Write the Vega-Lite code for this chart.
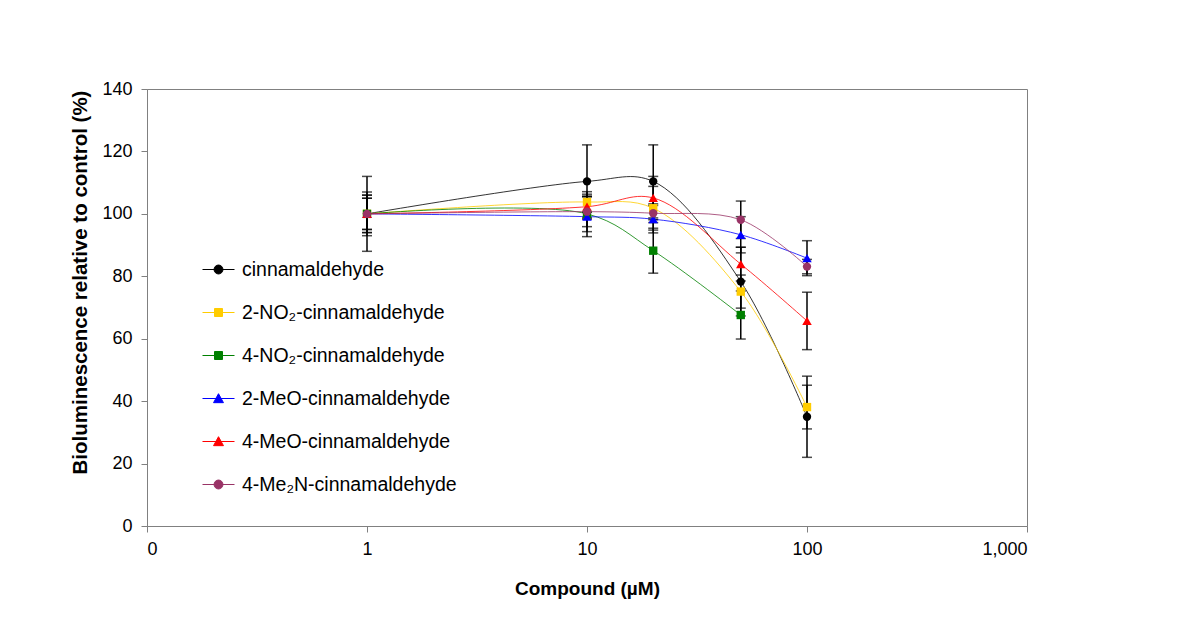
{
  "$schema": "https://vega.github.io/schema/vega-lite/v6.json",
  "width": 880,
  "height": 437,
  "autosize": {"type": "none"},
  "padding": {"left": 147, "top": 89, "right": 173, "bottom": 105},
  "background": "white",
  "config": {
    "font": "Liberation Sans",
    "view": {"stroke": "#808080", "strokeWidth": 1},
    "axis": {
      "grid": false,
      "domainColor": "#808080",
      "tickColor": "#808080",
      "labelColor": "black",
      "titleColor": "black",
      "labelFont": "Liberation Sans",
      "titleFont": "Liberation Sans",
      "tickSize": 6
    }
  },
  "data": {
    "values": [
      {"compound": "cinnamaldehyde", "conc": 1, "value": 100, "lo": 88, "hi": 112},
      {"compound": "cinnamaldehyde", "conc": 10, "value": 110.4, "lo": 98.7, "hi": 122.1},
      {"compound": "cinnamaldehyde", "conc": 20, "value": 110.4, "lo": 98.7, "hi": 122.1},
      {"compound": "cinnamaldehyde", "conc": 50, "value": 78.3, "lo": 67.3, "hi": 89.3},
      {"compound": "cinnamaldehyde", "conc": 100, "value": 35, "lo": 22, "hi": 48},
      {"compound": "2-NO₂-cinnamaldehyde", "conc": 1, "value": 100, "lo": 93, "hi": 107},
      {"compound": "2-NO₂-cinnamaldehyde", "conc": 10, "value": 103.8, "lo": 100.5, "hi": 107.1},
      {"compound": "2-NO₂-cinnamaldehyde", "conc": 20, "value": 101.8, "lo": 94.8, "hi": 108.8},
      {"compound": "2-NO₂-cinnamaldehyde", "conc": 50, "value": 75.1, "lo": 69.8, "hi": 80.4},
      {"compound": "2-NO₂-cinnamaldehyde", "conc": 100, "value": 38.1, "lo": 31.1, "hi": 45.1},
      {"compound": "4-NO₂-cinnamaldehyde", "conc": 1, "value": 100, "lo": 94, "hi": 106},
      {"compound": "4-NO₂-cinnamaldehyde", "conc": 10, "value": 100, "lo": 94.3, "hi": 105.7},
      {"compound": "4-NO₂-cinnamaldehyde", "conc": 20, "value": 88.2, "lo": 81, "hi": 95.4},
      {"compound": "4-NO₂-cinnamaldehyde", "conc": 50, "value": 67.6, "lo": 59.9, "hi": 75.3},
      {"compound": "2-MeO-cinnamaldehyde", "conc": 1, "value": 100, "lo": 95, "hi": 105},
      {"compound": "2-MeO-cinnamaldehyde", "conc": 10, "value": 99.1, "lo": 92.7, "hi": 105.5},
      {"compound": "2-MeO-cinnamaldehyde", "conc": 20, "value": 98.3, "lo": 93.9, "hi": 102.7},
      {"compound": "2-MeO-cinnamaldehyde", "conc": 50, "value": 93.3, "lo": 87.5, "hi": 99.1},
      {"compound": "2-MeO-cinnamaldehyde", "conc": 100, "value": 85.8, "lo": 80.2, "hi": 91.4},
      {"compound": "4-MeO-cinnamaldehyde", "conc": 1, "value": 100, "lo": 94, "hi": 106},
      {"compound": "4-MeO-cinnamaldehyde", "conc": 10, "value": 102.3, "lo": 98.3, "hi": 106.3},
      {"compound": "4-MeO-cinnamaldehyde", "conc": 20, "value": 105.1, "lo": 98.1, "hi": 112},
      {"compound": "4-MeO-cinnamaldehyde", "conc": 50, "value": 83.9, "lo": 78.5, "hi": 89.3},
      {"compound": "4-MeO-cinnamaldehyde", "conc": 100, "value": 65.7, "lo": 56.5, "hi": 74.9},
      {"compound": "4-Me₂N-cinnamaldehyde", "conc": 1, "value": 100, "lo": 95, "hi": 105},
      {"compound": "4-Me₂N-cinnamaldehyde", "conc": 10, "value": 100.7, "lo": 95.9, "hi": 105.5},
      {"compound": "4-Me₂N-cinnamaldehyde", "conc": 20, "value": 100.2, "lo": 97.2, "hi": 103.2},
      {"compound": "4-Me₂N-cinnamaldehyde", "conc": 50, "value": 98.1, "lo": 92.1, "hi": 104.1},
      {"compound": "4-Me₂N-cinnamaldehyde", "conc": 100, "value": 83.1, "lo": 80.8, "hi": 85.4}
    ]
  },
  "encoding": {
    "x": {
      "field": "conc",
      "type": "quantitative",
      "scale": {"type": "log", "domain": [0.1, 1000], "nice": false},
      "axis": {
        "values": [0.1, 1, 10, 100, 1000],
        "labelExpr": "datum.value < 0.5 ? '0' : format(datum.value, ',')",
        "labelFontSize": 18,
        "labelPadding": 8,
        "title": "Compound (µM)",
        "titleFontSize": 19,
        "titleFontWeight": "bold",
        "titleX": 440,
        "titleY": 62,
        "titleBaseline": "middle",
        "titleAlign": "center"
      }
    }
  },
  "layer": [
    {
      "mark": {"type": "line", "interpolate": "catmull-rom", "strokeWidth": 0.8},
      "encoding": {
        "y": {
          "field": "value",
          "type": "quantitative",
          "scale": {"domain": [0, 140], "nice": false},
          "axis": {
            "values": [0, 20, 40, 60, 80, 100, 120, 140],
            "labelFontSize": 18,
            "labelPadding": 9,
            "title": "Bioluminescence relative to control (%)",
            "titleFontSize": 20.5,
            "titleFontWeight": "bold",
            "titleX": -67,
            "titleY": 193,
            "titleAngle": 270,
            "titleAlign": "center",
            "titleBaseline": "middle"
          }
        },
        "color": {
          "field": "compound",
          "type": "nominal",
          "scale": {
            "domain": ["cinnamaldehyde", "2-NO₂-cinnamaldehyde", "4-NO₂-cinnamaldehyde", "2-MeO-cinnamaldehyde", "4-MeO-cinnamaldehyde", "4-Me₂N-cinnamaldehyde"],
            "range": ["#000000", "#FFCC00", "#008000", "#0000FF", "#FF0000", "#993366"]
          },
          "legend": {
            "title": null,
            "orient": "none",
            "legendX": 55,
            "legendY": 164,
            "padding": 0,
            "symbolSize": 1024,
            "labelFontSize": 19.5,
            "labelFont": "Liberation Sans",
            "labelColor": "black",
            "labelOffset": 7,
            "labelLimit": 0,
            "rowPadding": 17,
            "encode": {
              "symbols": {
                "update": {
                  "shape": {"signal": "['M-1,0L1,0M-0.28,0A0.28,0.28,0,1,0,0.28,0A0.28,0.28,0,1,0,-0.28,0Z','M-1,0L1,0M-0.25,-0.25L0.25,-0.25L0.25,0.25L-0.25,0.25Z','M-1,0L1,0M-0.25,-0.25L0.25,-0.25L0.25,0.25L-0.25,0.25Z','M-1,0L1,0M0,-0.3L0.31,0.26L-0.31,0.26Z','M-1,0L1,0M0,-0.3L0.31,0.26L-0.31,0.26Z','M-1,0L1,0M-0.28,0A0.28,0.28,0,1,0,0.28,0A0.28,0.28,0,1,0,-0.28,0Z'][indexof(['cinnamaldehyde','2-NO₂-cinnamaldehyde','4-NO₂-cinnamaldehyde','2-MeO-cinnamaldehyde','4-MeO-cinnamaldehyde','4-Me₂N-cinnamaldehyde'], datum.value)]"},
                  "fill": {"scale": "color", "field": "value"},
                  "stroke": {"scale": "color", "field": "value"},
                  "strokeWidth": {"value": 1},
                  "opacity": {"value": 1}
                }
              }
            }
          }
        }
      }
    },
    {
      "mark": {"type": "rule", "color": "black", "strokeWidth": 1.5},
      "encoding": {
        "y": {"field": "lo", "type": "quantitative"},
        "y2": {"field": "hi"}
      }
    },
    {
      "mark": {"type": "tick", "orient": "horizontal", "color": "black", "size": 10, "thickness": 1.5},
      "encoding": {"y": {"field": "lo", "type": "quantitative"}}
    },
    {
      "mark": {"type": "tick", "orient": "horizontal", "color": "black", "size": 10, "thickness": 1.5},
      "encoding": {"y": {"field": "hi", "type": "quantitative"}}
    },
    {
      "transform": [{"filter": "datum.compound === 'cinnamaldehyde'"}],
      "mark": {"type": "point", "filled": true, "opacity": 1, "shape": "circle", "size": 70},
      "encoding": {
        "y": {"field": "value", "type": "quantitative"},
        "color": {"field": "compound", "type": "nominal", "legend": null}
      }
    },
    {
      "transform": [{"filter": "datum.compound === '2-NO₂-cinnamaldehyde'"}],
      "mark": {"type": "point", "filled": true, "opacity": 1, "shape": "square", "size": 70},
      "encoding": {
        "y": {"field": "value", "type": "quantitative"},
        "color": {"field": "compound", "type": "nominal", "legend": null}
      }
    },
    {
      "transform": [{"filter": "datum.compound === '4-NO₂-cinnamaldehyde'"}],
      "mark": {"type": "point", "filled": true, "opacity": 1, "shape": "square", "size": 70},
      "encoding": {
        "y": {"field": "value", "type": "quantitative"},
        "color": {"field": "compound", "type": "nominal", "legend": null}
      }
    },
    {
      "transform": [{"filter": "datum.compound === '2-MeO-cinnamaldehyde'"}],
      "mark": {"type": "point", "filled": true, "opacity": 1, "shape": "triangle-up", "size": 90},
      "encoding": {
        "y": {"field": "value", "type": "quantitative"},
        "color": {"field": "compound", "type": "nominal", "legend": null}
      }
    },
    {
      "transform": [{"filter": "datum.compound === '4-MeO-cinnamaldehyde'"}],
      "mark": {"type": "point", "filled": true, "opacity": 1, "shape": "triangle-up", "size": 90},
      "encoding": {
        "y": {"field": "value", "type": "quantitative"},
        "color": {"field": "compound", "type": "nominal", "legend": null}
      }
    },
    {
      "transform": [{"filter": "datum.compound === '4-Me₂N-cinnamaldehyde'"}],
      "mark": {"type": "point", "filled": true, "opacity": 1, "shape": "circle", "size": 70},
      "encoding": {
        "y": {"field": "value", "type": "quantitative"},
        "color": {"field": "compound", "type": "nominal", "legend": null}
      }
    }
  ]
}
